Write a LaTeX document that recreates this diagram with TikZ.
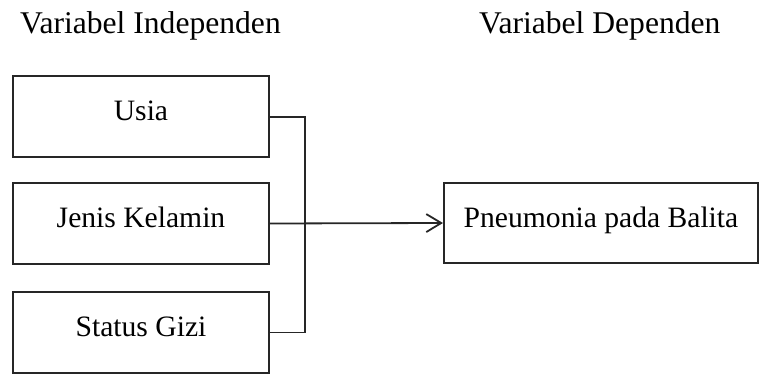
\documentclass[tikz,border=0pt]{standalone}
\usepackage{fontspec}
\setmainfont{Liberation Serif}
\usetikzlibrary{arrows.meta}
\begin{document}
\begin{tikzpicture}[x=1pt,y=1pt,
  varbox/.style={draw=black!85, line width=2pt, minimum width=256pt, minimum height=81pt,
    inner sep=0pt, text height=20pt, text depth=12pt, font=\fontsize{29.6}{34}\selectfont},
  depbox/.style={varbox, minimum width=314pt, minimum height=80pt},
  heading/.style={anchor=base west, inner sep=0pt, font=\fontsize{31.6}{36}\selectfont},
  conn/.style={draw=black!85, line width=1.8pt}]
\useasboundingbox (0,0) rectangle (760,-374);
\node[heading] (hind) at (20,-34) {Variabel Independen};
\node[heading] (hdep) at (479,-34) {Variabel Dependen};
\node[varbox] (usia) at (141,-117) {Usia};
\node[varbox] (jk) at (141,-223.5) {Jenis Kelamin};
\node[varbox] (sg) at (141,-332.5) {Status Gizi};
\node[depbox] (pn) at (601,-223) {Pneumonia pada Balita};
\coordinate (bx) at (305,-332.5);
\draw[conn] (usia.east) -| (bx) -- (sg.east);
\draw[conn, -{Straight Barb[length=15pt,width=18pt,line width=1.8pt]}] (jk.east) -- (pn.west);
\end{tikzpicture}
\end{document}
